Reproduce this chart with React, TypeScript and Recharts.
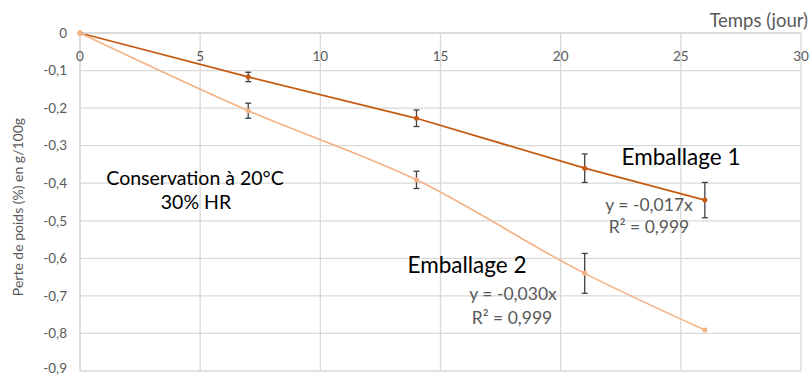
import React from 'react';
import {
  LineChart,
  Line,
  XAxis,
  YAxis,
  CartesianGrid,
  ErrorBar,
} from 'recharts';

const days = [0, 7, 14, 21, 26];
const emballage1 = [0, -0.117, -0.227, -0.36, -0.445];
const emballage1Err = [0, 0.0125, 0.022, 0.038, 0.047];
const emballage2 = [0, -0.207, -0.391, -0.64, -0.791];
const emballage2Err = [0, 0.02, 0.023, 0.053, 0];

const xTicks = [0, 5, 10, 15, 20, 25, 30];
const yTicks = [0, -0.1, -0.2, -0.3, -0.4, -0.5, -0.6, -0.7, -0.8, -0.9];

const FONT = 'Lato, "Open Sans", sans-serif';
const GREY = '#595959';
const GRID = '#d9d9d9';

const data = days.map((d, i) => ({
  day: d,
  e1: emballage1[i],
  e1Err: emballage1Err[i],
  e2: emballage2[i],
  e2Err: emballage2Err[i],
}));

const fmtY = (v: number) => (Math.abs(v) < 1e-9 ? '0' : v.toFixed(1).replace('.', ','));

// x labels sit under the axis line at y = 0 (top of the plot)
const TopTick = (props: any) => {
  const { x, y, payload } = props;
  return (
    <text x={x} y={y + 28} textAnchor="middle" fill={GREY} fontSize={13.5} fontFamily={FONT}>
      {payload.value}
    </text>
  );
};

export default function App() {
  return (
    <div style={{ position: 'absolute', left: 0, top: 0, width: 810, height: 376, background: '#fff' }}>
      <LineChart
        width={810}
        height={376}
        data={data}
        margin={{ top: 3, right: 9, bottom: 5, left: 0 }}
      >
        <CartesianGrid stroke={GRID} strokeWidth={1.3} />
        <XAxis
          dataKey="day"
          type="number"
          orientation="top"
          height={30}
          domain={[0, 30]}
          ticks={xTicks}
          tickLine={false}
          tickSize={0}
          tickMargin={0}
          axisLine={{ stroke: GRID, strokeWidth: 1.3 }}
          tick={<TopTick />}
        />
        <YAxis
          type="number"
          width={80}
          domain={[-0.9, 0]}
          ticks={yTicks}
          tickFormatter={fmtY}
          tickLine={false}
          tickSize={0}
          tickMargin={13}
          axisLine={{ stroke: GRID, strokeWidth: 1.3 }}
          tick={{ fill: GREY, fontSize: 13.5, fontFamily: FONT }}
        />
        <Line
          dataKey="e1"
          type="linear"
          stroke="#C55A11"
          strokeWidth={1.8}
          dot={{ r: 2.5, fill: '#C55A11', stroke: 'none' }}
          isAnimationActive={false}
        >
          <ErrorBar dataKey="e1Err" direction="y" width={3} stroke="#404040" strokeWidth={1.3} />
        </Line>
        <Line
          dataKey="e2"
          type="monotone"
          stroke="#F4B183"
          strokeWidth={1.6}
          dot={{ r: 2.5, fill: '#F4B183', stroke: 'none' }}
          isAnimationActive={false}
        >
          <ErrorBar dataKey="e2Err" direction="y" width={3} stroke="#404040" strokeWidth={1.3} />
        </Line>

        <text x={808} y={27} textAnchor="end" fill={GREY} fontSize={18.5} fontFamily={FONT}>
          Temps (jour)
        </text>
        <text
          x={17}
          y={207}
          transform="rotate(-90 17 207)"
          textAnchor="middle"
          dominantBaseline="central"
          fill={GREY}
          fontSize={14}
          fontFamily={FONT}
        >
          Perte de poids (%) en g/100g
        </text>

        <text x={195} y={185} textAnchor="middle" fill="#000" fontSize={19.5} fontFamily={FONT}>
          Conservation à 20°C
        </text>
        <text x={196} y={209} textAnchor="middle" fill="#000" fontSize={19.5} fontFamily={FONT}>
          30% HR
        </text>

        <text x={681} y={165} textAnchor="middle" fill="#000" fontSize={22.5} fontFamily={FONT}>
          Emballage 1
        </text>
        <text x={649} y={211} textAnchor="middle" fill={GREY} fontSize={17.5} fontFamily={FONT}>
          y = -0,017x
        </text>
        <text x={649} y={233} textAnchor="middle" fill={GREY} fontSize={17.5} fontFamily={FONT}>
          R² = 0,999
        </text>

        <text x={467} y={273} textAnchor="middle" fill="#000" fontSize={22.5} fontFamily={FONT}>
          Emballage 2
        </text>
        <text x={513} y={300} textAnchor="middle" fill={GREY} fontSize={17.5} fontFamily={FONT}>
          y = -0,030x
        </text>
        <text x={512} y={324} textAnchor="middle" fill={GREY} fontSize={17.5} fontFamily={FONT}>
          R² = 0,999
        </text>
      </LineChart>
    </div>
  );
}
